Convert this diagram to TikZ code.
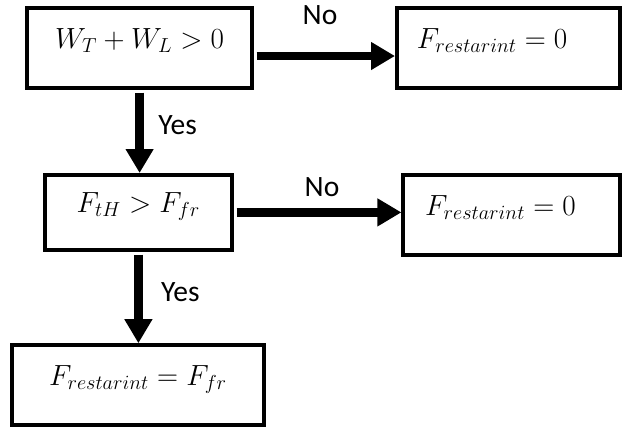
\documentclass[tikz,border=0pt]{standalone}
\usepackage{amsmath}
\usepackage{fontspec}
\setsansfont{Carlito}
\usepackage{tikz}
\usetikzlibrary{arrows.meta}

\tikzset{
  box/.style={draw, line width=2.5pt, rectangle, minimum height=2cm,
    text height=0.45cm, text depth=0.45cm, font=\fontsize{20}{24}\selectfont},
  yesno/.style={inner sep=0pt, font=\sffamily\fontsize{21}{25}\selectfont},
  flow/.style={line width=6.3pt, shorten <=2pt,
    -{Triangle[length=0.6cm, width=0.66cm]}},
}

\begin{document}
\begin{tikzpicture}
  \useasboundingbox (0,0) rectangle (15.55,-10.675);

  % decision boxes on the left, results on the right
  \node[box, minimum width=5.62cm] (wsum) at (3.49,-1.2) {$W_T + W_L > 0$};
  \node[box, text width=4.58cm, inner xsep=0.5cm, align=left] (zero1) at (12.71,-1.2) {$F_{restarint} = 0$};
  \node[box, minimum width=4.68cm, minimum height=1.88cm] (fric) at (3.46,-5.31) {$F_{tH} > F_{fr}$};
  \node[box, text width=4.32cm, inner xsep=0.55cm, align=left] (zero2) at (12.79,-5.38) {$F_{restarint} = 0$};
  \node[box, minimum width=6.3cm] (full) at (3.45,-9.625) {$F_{restarint} = F_{fr}$};

  \node[yesno] (no1) at (8.0,-0.38) {No};
  \node[yesno] (no2) at (8.05,-4.68) {No};
  \node[yesno, anchor=west] (yes1) at (3.95,-3.12) {Yes};
  \node[yesno, anchor=west] (yes2) at (4.02,-7.3) {Yes};

  \draw[flow] ([yshift=-0.2cm]wsum.east) -- ([yshift=-0.2cm]zero1.west);
  \draw[flow] (wsum.south) -- (wsum.south |- fric.north);
  \draw[flow] (fric.east) -- (fric.east -| zero2.west);
  \draw[flow] (fric.south) -- (fric.south |- full.north);
\end{tikzpicture}
\end{document}
